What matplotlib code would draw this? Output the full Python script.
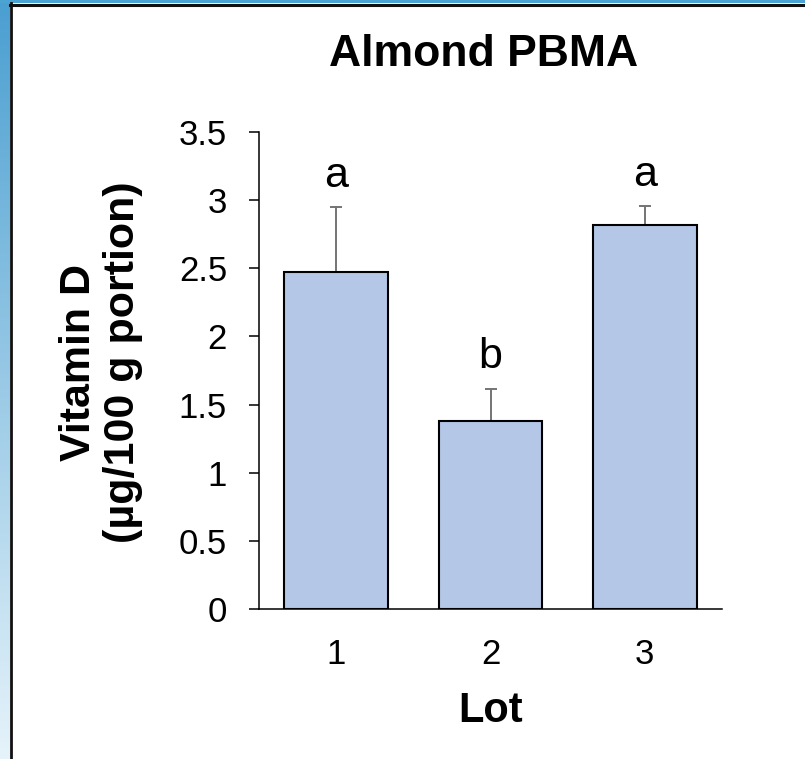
"""
Almond PBMA vitamin D per lot - bar chart with SD bars and letters
"""

import numpy as np
import matplotlib
matplotlib.use('Agg')
import matplotlib.pyplot as plt
from matplotlib.colors import LinearSegmentedColormap

plt.rcParams['font.family'] = ['Liberation Sans', 'DejaVu Sans']

lots = ['1', '2', '3']
vitamin_d = [2.47, 1.38, 2.82]
sd = [0.48, 0.235, 0.135]
letters = ['a', 'b', 'a']

y_ticks = [0, 0.5, 1, 1.5, 2, 2.5, 3, 3.5]
y_tick_labels = ['0', '0.5', '1', '1.5', '2', '2.5', '3', '3.5']

BAR_COLOR = '#B4C7E7'
ERR_COLOR = '#747474'

W, H = 805, 759
fig = plt.figure(figsize=(W / 100, H / 100), dpi=100)
fig.patch.set_facecolor('white')

# blue frame on the left and the top
cmap = LinearSegmentedColormap.from_list('frame', ['#4A9FD1', '#E6F3FA'])
left = fig.add_axes([0, 0, 10 / W, 1])
left.imshow(np.linspace(0, 1, 256).reshape(-1, 1), aspect='auto', cmap=cmap)
left.axis('off')
top = fig.add_axes([0, 1 - 3 / H, 1, 3 / H])
top.set_facecolor('#4BA3D3')
top.set_xticks([])
top.set_yticks([])
for s in top.spines.values():
    s.set_visible(False)
fig.add_artist(plt.Line2D([11 / W, 11 / W], [0, 1 - 3 / H], color='#111111',
                          linewidth=2, transform=fig.transFigure))
fig.add_artist(plt.Line2D([10 / W, 1], [1 - 4.5 / H, 1 - 4.5 / H], color='#111111',
                          linewidth=2.2, transform=fig.transFigure))

ax = fig.add_axes([259 / W, 1 - 609 / H, (722 - 259) / W, (609 - 132) / H])
x = np.arange(1, len(lots) + 1)
ax.bar(x, vitamin_d, width=0.67, color=BAR_COLOR, edgecolor='black',
       linewidth=1.5, zorder=2)
ax.errorbar(x, vitamin_d, yerr=[np.zeros(len(sd)), sd], fmt='none',
            ecolor=ERR_COLOR, elinewidth=1.4, capsize=4, capthick=1.4, zorder=1)

for xi, v, e, letter in zip(x, vitamin_d, sd, letters):
    ax.text(xi, v + e + 0.15, letter, ha='center', va='baseline', fontsize=31)

ax.set_xlim(0.5, 3.5)
ax.set_ylim(0, 3.5)
ax.set_xticks(x)
ax.set_xticklabels(lots, fontsize=25)
ax.set_yticks(y_ticks)
ax.set_yticklabels(y_tick_labels, fontsize=25)
ax.tick_params(axis='x', length=0, pad=21)
ax.tick_params(axis='y', length=7, width=1.1, pad=16)
ax.spines['top'].set_visible(False)
ax.spines['right'].set_visible(False)
ax.spines['left'].set_linewidth(1.1)
ax.spines['bottom'].set_linewidth(1.1)

fig.text(484 / W, 1 - 66 / H, 'Almond PBMA', ha='center', va='baseline',
         fontsize=32, fontweight='bold')
fig.text(491 / W, 1 - 722 / H, 'Lot', ha='center', va='baseline',
         fontsize=30, fontweight='bold')
fig.text(101 / W, 1 - 362 / H, 'Vitamin D\n(µg/100 g portion)', rotation=90,
         ha='center', va='center', multialignment='center', fontsize=31,
         fontweight='bold', linespacing=1.15)

plt.savefig('out.png', dpi=100)
